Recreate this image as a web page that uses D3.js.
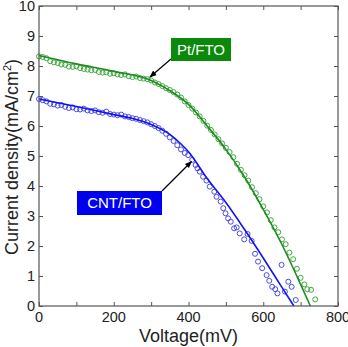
<!DOCTYPE html>
<html>
<head>
<meta charset="utf-8">
<script src="https://cdn.jsdelivr.net/npm/d3@7"></script>
<style>
  body { margin: 0; background: #fff; }
  svg { display: block; font-family: "Liberation Sans", Arial, sans-serif; }
</style>
</head>
<body>
<div id="chart"></div>
<script>
// fitted curves (line)
var ptFitV  = [0, 100, 200, 300, 360, 400, 450, 500, 550, 600, 650, 700, 726];
var ptFitJ  = [8.35, 8.07, 7.82, 7.52, 7.1, 6.72, 6.0, 5.22, 4.3, 3.22, 2.05, 0.72, 0];
var cntFitV = [0, 100, 200, 250, 300, 350, 380, 400, 450, 500, 550, 600, 650, 682];
var cntFitJ = [6.9, 6.65, 6.38, 6.25, 6.05, 5.72, 5.4, 5.14, 4.25, 3.45, 2.55, 1.6, 0.62, 0];

// measured points (circles)
var ptDataV = [0, 10, 20, 30, 40, 50, 60, 70, 80, 90, 100, 110, 120, 130, 140, 150, 160, 170, 180, 190,
               200, 210, 220, 230, 240, 250, 260, 270, 280, 290, 300, 310, 320, 330, 340, 350, 360, 370, 380, 390,
               400, 410, 420, 430, 440, 450, 460, 470, 480, 490, 500, 510, 520, 530, 540, 550, 560, 570, 580, 590,
               600, 610, 620, 630, 640, 650, 660, 670, 680, 690, 700, 710, 718, 728, 739];
var ptDataJ = [8.32, 8.30, 8.26, 8.16, 8.12, 8.10, 8.05, 8.04, 7.98, 7.97, 7.99, 7.93, 7.90, 7.88, 7.86, 7.87, 7.80, 7.78, 7.79, 7.74,
               7.76, 7.72, 7.70, 7.72, 7.66, 7.63, 7.65, 7.60, 7.58, 7.56, 7.52, 7.45, 7.40, 7.33, 7.26, 7.20, 7.13, 7.05, 6.95, 6.82,
               6.70, 6.58, 6.45, 6.32, 6.17, 6.01, 5.87, 5.72, 5.56, 5.42, 5.27, 5.13, 4.96, 4.74, 4.54, 4.36, 4.18, 3.96, 3.76, 3.56,
               3.32, 3.12, 2.86, 2.62, 2.46, 2.22, 2.06, 1.78, 1.56, 1.24, 0.94, 0.72, 0.56, 0.54, 0.22];

var cntDataV = [0, 10, 20, 30, 40, 50, 60, 70, 80, 90, 100, 110, 120, 130, 140, 150, 160, 170, 180, 190,
                200, 210, 220, 230, 240, 250, 260, 270, 280, 290, 300, 310, 320, 330, 340, 350, 360, 370, 380, 390,
                399, 410, 419, 424, 430, 439, 448, 457, 469, 475, 486, 493, 499, 506, 513, 522, 529, 537, 549, 558,
                569, 578, 586, 597, 609, 616, 624, 632, 638, 649, 658, 667, 676, 687];
var cntDataJ = [6.90, 6.86, 6.82, 6.74, 6.72, 6.68, 6.70, 6.64, 6.60, 6.62, 6.56, 6.55, 6.58, 6.52, 6.50, 6.52, 6.46, 6.44, 6.48, 6.40,
                6.38, 6.36, 6.38, 6.32, 6.30, 6.26, 6.24, 6.20, 6.16, 6.12, 6.06, 6.00, 5.93, 5.84, 5.74, 5.62, 5.50, 5.36, 5.22, 5.10,
                5.03, 4.87, 4.70, 4.59, 4.48, 4.31, 4.18, 3.98, 3.81, 3.64, 3.48, 3.26, 3.09, 2.92, 2.81, 2.59, 2.62, 2.42, 2.22, 2.40,
                2.17, 1.74, 1.48, 1.26, 1.03, 0.84, 0.64, 0.56, 0.42, 1.37, 0.48, 0.81, 0.64, 0.20];

var xTickValues = [0, 100, 200, 300, 400, 500, 600, 700, 800];
var xLabelValues = [0, 200, 400, 600, 800];
var yTickValues = [0, 1, 2, 3, 4, 5, 6, 7, 8, 9, 10];

var width = 348, height = 347;
var plot = {left: 39, right: 338, top: 6, bottom: 306};

var svg = d3.select("#chart").append("svg")
    .attr("width", width)
    .attr("height", height);

var x = d3.scaleLinear().domain([0, 800]).range([plot.left, plot.right]);
var y = d3.scaleLinear().domain([0, 10]).range([plot.bottom, plot.top]);

//arrow head marker
svg.append("defs").append("marker")
    .attr("id", "arrow")
    .attr("viewBox", "0 0 10 10")
    .attr("refX", 9).attr("refY", 5)
    .attr("markerWidth", 6).attr("markerHeight", 6)
    .attr("orient", "auto")
    .append("path")
    .attr("d", "M0,1 L10,5 L0,9 Z")
    .attr("fill", "#000");

//ticks on all four sides, pointing inwards
var tickLen = 4;
var axisColor = "#555";

svg.append("g")
    .attr("transform", "translate(0," + plot.bottom + ")")
    .call(d3.axisBottom(x).tickValues(xTickValues).tickSize(-tickLen).tickFormat(""))
    .call(function(g) { g.select(".domain").remove(); });
svg.append("g")
    .attr("transform", "translate(0," + plot.top + ")")
    .call(d3.axisTop(x).tickValues(xTickValues).tickSize(-tickLen).tickFormat(""))
    .call(function(g) { g.select(".domain").remove(); });
svg.append("g")
    .attr("transform", "translate(" + plot.left + ",0)")
    .call(d3.axisLeft(y).tickValues(yTickValues).tickSize(-tickLen).tickFormat(""))
    .call(function(g) { g.select(".domain").remove(); });
svg.append("g")
    .attr("transform", "translate(" + plot.right + ",0)")
    .call(d3.axisRight(y).tickValues(yTickValues).tickSize(-tickLen).tickFormat(""))
    .call(function(g) { g.select(".domain").remove(); });

svg.selectAll(".tick line").attr("stroke", axisColor);

//tick labels
svg.append("g").selectAll("text")
    .data(xLabelValues).enter().append("text")
    .attr("x", function(d) { return x(d); })
    .attr("y", plot.bottom + 16)
    .attr("text-anchor", "middle")
    .attr("font-size", 14.5)
    .attr("fill", "#222")
    .text(function(d) { return d; });

svg.append("g").selectAll("text")
    .data(yTickValues).enter().append("text")
    .attr("x", plot.left - 4)
    .attr("y", function(d) { return y(d) + 5.2; })
    .attr("text-anchor", "end")
    .attr("font-size", 14.5)
    .attr("fill", "#222")
    .text(function(d) { return d; });

//axis titles
svg.append("text")
    .attr("x", (plot.left + plot.right) / 2)
    .attr("y", 342)
    .attr("text-anchor", "middle")
    .attr("font-size", 18)
    .attr("fill", "#222")
    .text("Voltage(mV)");

var yTitle = svg.append("text")
    .attr("transform", "translate(17.5,157) rotate(-90)")
    .attr("text-anchor", "middle")
    .attr("font-size", 18)
    .attr("fill", "#222");
yTitle.append("tspan").text("Current density(mA/cm");
yTitle.append("tspan").attr("font-size", 11).attr("dy", -7).text("2");
yTitle.append("tspan").attr("dy", 7).text(")");

//curves and circles
var series = [
    {fitV: ptFitV, fitJ: ptFitJ, dataV: ptDataV, dataJ: ptDataJ, line: "#1e8c1e", dot: "#3fa83f"},
    {fitV: cntFitV, fitJ: cntFitJ, dataV: cntDataV, dataJ: cntDataJ, line: "#1414f0", dot: "#4a4ae6"}
];

var lineGen = d3.line()
    .x(function(d) { return x(d[0]); })
    .y(function(d) { return y(d[1]); })
    .curve(d3.curveMonotoneX);

series.forEach(function(s) {
    var pts = s.dataV.map(function(v, i) { return [v, s.dataJ[i]]; });
    svg.append("g").selectAll("circle")
        .data(pts).enter().append("circle")
        .attr("cx", function(d) { return x(d[0]); })
        .attr("cy", function(d) { return y(d[1]); })
        .attr("r", 2.5)
        .attr("fill", "none")
        .attr("stroke", s.dot)
        .attr("stroke-width", 1);

    var fit = s.fitV.map(function(v, i) { return [v, s.fitJ[i]]; });
    svg.append("path")
        .datum(fit)
        .attr("d", lineGen)
        .attr("fill", "none")
        .attr("stroke", s.line)
        .attr("stroke-width", 1.6);
});

//frame
svg.append("rect")
    .attr("x", plot.left).attr("y", plot.top)
    .attr("width", plot.right - plot.left)
    .attr("height", plot.bottom - plot.top)
    .attr("fill", "none")
    .attr("stroke", axisColor)
    .attr("stroke-width", 1.2);

//labels with arrows
var labels = [
    {text: "Pt/FTO", box: [171, 38, 60, 23], fill: "#0a8a0a", from: [171, 59], to: [150, 77]},
    {text: "CNT/FTO", box: [77, 191, 85, 24], fill: "#0000f0", from: [162, 191], to: [191.5, 161.5]}
];

labels.forEach(function(l) {
    svg.append("line")
        .attr("x1", l.from[0]).attr("y1", l.from[1])
        .attr("x2", l.to[0]).attr("y2", l.to[1])
        .attr("stroke", "#000")
        .attr("stroke-width", 1.2)
        .attr("marker-end", "url(#arrow)");
    svg.append("rect")
        .attr("x", l.box[0]).attr("y", l.box[1])
        .attr("width", l.box[2]).attr("height", l.box[3])
        .attr("fill", l.fill);
    svg.append("text")
        .attr("x", l.box[0] + l.box[2] / 2)
        .attr("y", l.box[1] + l.box[3] / 2 + 5.4)
        .attr("text-anchor", "middle")
        .attr("font-size", 15)
        .attr("fill", "#fff")
        .text(l.text);
});
</script>
</body>
</html>
